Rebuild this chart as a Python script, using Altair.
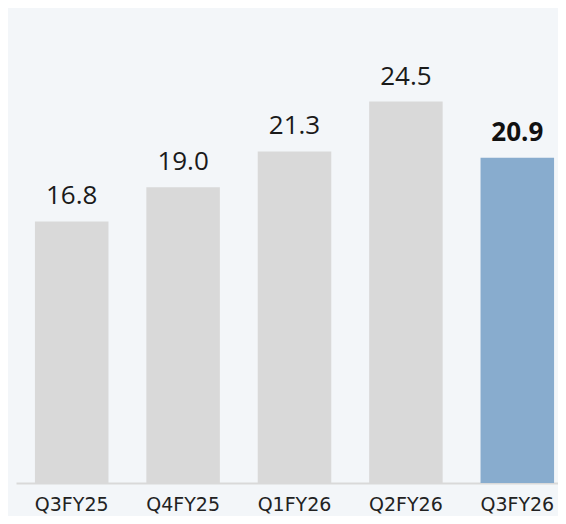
import altair as alt
import pandas as pd

quarters = ["Q3FY25", "Q4FY25", "Q1FY26", "Q2FY26", "Q3FY26"]
values = [16.8, 19.0, 21.3, 24.5, 20.9]
labels = ["16.8", "19.0", "21.3", "24.5", "20.9"]
status = ["past", "past", "past", "past", "current"]

df = pd.DataFrame({"quarter": quarters, "value": values, "label": labels, "status": status})

x = alt.X(
    "quarter:N",
    sort=quarters,
    title=None,
    scale=alt.Scale(range=[0, 557], paddingInner=0.34, paddingOuter=0.17),
    axis=alt.Axis(
        labelAngle=0,
        ticks=False,
        tickSize=0,
        domainColor="#d9d9d9",
        domainWidth=2,
        labelFont="DejaVu Sans",
        labelFontSize=19,
        labelColor="#222222",
        labelPadding=12,
        grid=False,
    ),
)
y = alt.Y("value:Q", scale=alt.Scale(domain=[0, 30], nice=False), axis=None)

base = alt.Chart(df)

bars = base.mark_bar().encode(
    x=x,
    y=y,
    color=alt.Color(
        "status:N",
        scale=alt.Scale(domain=["past", "current"], range=["#d9d9d9", "#88acce"]),
        legend=None,
    ),
)

text_normal = base.transform_filter("datum.status == 'past'").mark_text(
    font="Open Sans", fontSize=26, baseline="alphabetic", dy=-17, color="#1a1a1a"
).encode(x=x, y=y, text="label:N")

text_bold = base.transform_filter("datum.status == 'current'").mark_text(
    font="Open Sans", fontSize=26, fontWeight="bold", baseline="alphabetic", dy=-17, color="#111111"
).encode(x=x, y=y, text="label:N")

chart = (
    alt.layer(bars, text_normal, text_bold)
    .properties(
        width=542,
        height=467,
        background="#f3f6f9",
        autosize=alt.AutoSizeParams(type="none"),
        padding={"left": 8, "top": 8, "right": 0, "bottom": 33},
    )
    .configure_view(stroke="transparent")
)

chart.save("out.html", embed_options={"renderer": "svg", "actions": False})
